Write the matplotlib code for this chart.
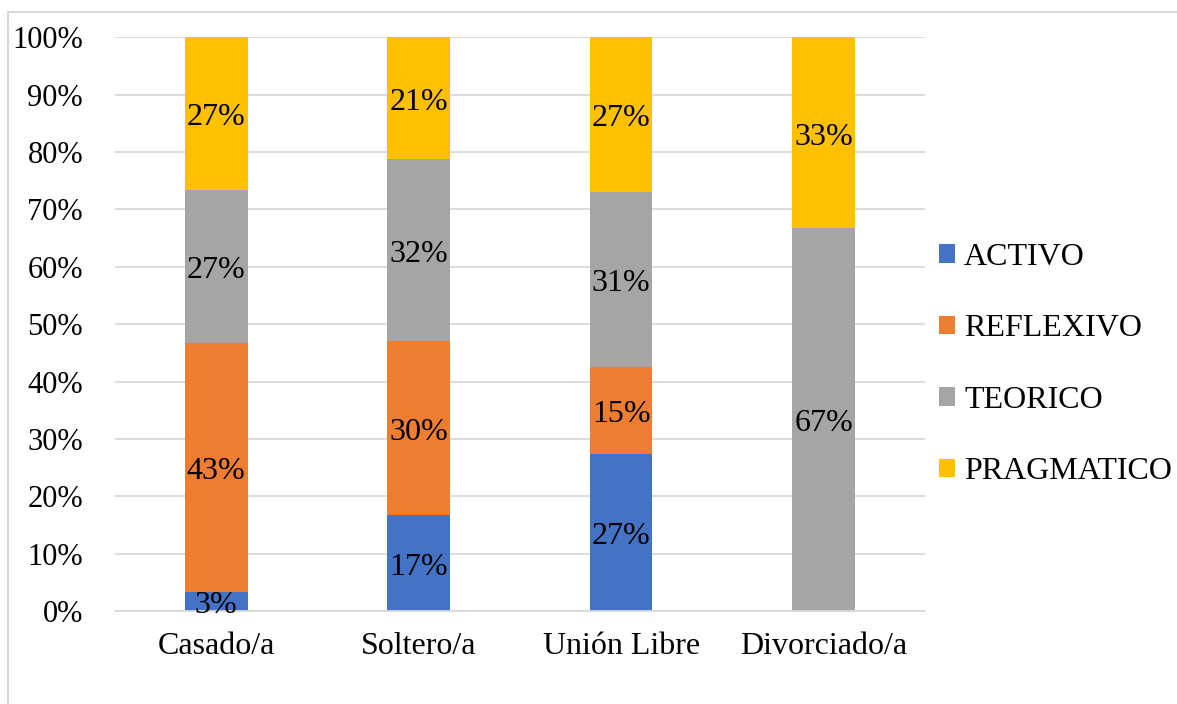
import matplotlib
matplotlib.use("Agg")
import matplotlib.pyplot as plt
from matplotlib.patches import Rectangle
import numpy as np

categories = ["Casado/a", "Soltero/a", "Unión Libre", "Divorciado/a"]
series_names = ["ACTIVO", "REFLEXIVO", "TEORICO", "PRAGMATICO"]
activo = [3.3, 16.7, 27.3, 0.0]
reflexivo = [43.4, 30.3, 15.2, 0.0]
teorico = [26.7, 31.8, 30.6, 66.7]
pragmatico = [26.6, 21.2, 26.9, 33.3]
colors = ["#4472C4", "#ED7D31", "#A5A5A5", "#FFC000"]

plt.rcParams["font.family"] = ["Liberation Serif", "DejaVu Serif"]

fig = plt.figure(figsize=(11.77, 7.04), dpi=100)
ax = fig.add_axes([0.0977, 0.132, 0.688, 0.815])

# light border around the chart area (cropped at right/bottom like the original)
fig.patches.append(Rectangle((8 / 1177, -0.1), 1.2, 1 - 12 / 704 + 0.1,
                             transform=fig.transFigure, fill=False,
                             edgecolor="#D9D9D9", linewidth=1.5))

x = np.arange(len(categories))
bottom = np.zeros(len(categories))
for name, vals, col in zip(series_names, [activo, reflexivo, teorico, pragmatico], colors):
    vals = np.array(vals)
    ax.bar(x, vals, 0.31, bottom=bottom, color=col, label=name, zorder=2)
    for xi, b, v in zip(x, bottom, vals):
        if v > 0:
            ax.annotate(f"{v:.0f}%", (xi, b + v / 2), xytext=(0, -3),
                        textcoords="offset points", ha="center", va="center",
                        fontsize=23, color="black", zorder=3)
    bottom += vals

ax.set_xlim(-0.5, 3.5)
ax.set_ylim(0, 100)
ax.set_yticks(np.arange(0, 101, 10))
ax.set_yticklabels([f"{t}%" for t in range(0, 101, 10)])
ax.set_xticks(x)
ax.set_xticklabels(categories)
ax.tick_params(axis="both", length=0, colors="black")
ax.tick_params(axis="y", pad=23, labelsize=22)
ax.tick_params(axis="x", pad=15, labelsize=23)
ax.yaxis.grid(True, color="#D9D9D9", linewidth=1.3, zorder=0)
ax.set_axisbelow(True)
for s in ["top", "right", "left"]:
    ax.spines[s].set_visible(False)
ax.spines["bottom"].set_color("#D9D9D9")
ax.spines["bottom"].set_linewidth(1.3)

fig.legend(loc="center left", bbox_to_anchor=(0.7735, 0.482), frameon=False,
           fontsize=23, handlelength=0.5, handleheight=0.5, handletextpad=0.28,
           labelspacing=1.33)

fig.savefig("out.png", dpi=100)
